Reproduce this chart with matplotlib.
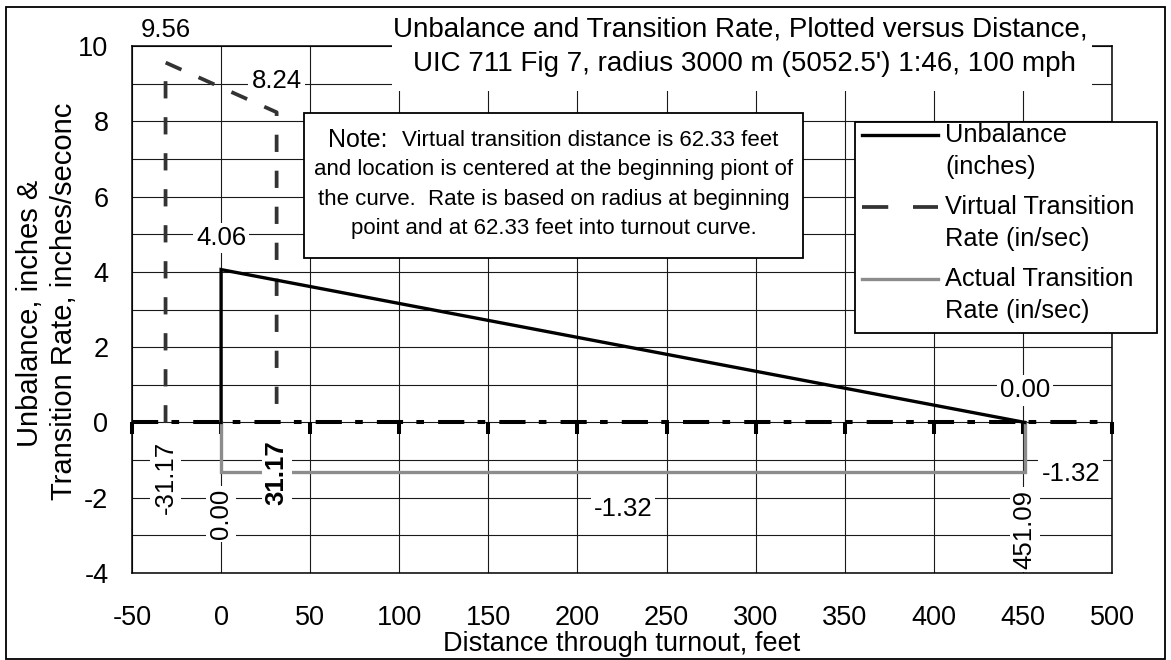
import matplotlib
matplotlib.use("Agg")
import matplotlib.pyplot as plt
from matplotlib.patches import Rectangle
from matplotlib.lines import Line2D
import numpy as np

plt.rcParams['font.family'] = ['Liberation Sans', 'DejaVu Sans']

# ---------------- data ----------------
unbalance_x = [0.0, 0.0, 451.09]
unbalance_y = [0.0, 4.06, 0.0]

virtual_x = [-31.17, -31.17, 31.17, 31.17]
virtual_y = [0.0, 9.56, 8.24, 0.0]

actual_x = [0.0, 0.0, 451.09, 451.09]
actual_y = [0.0, -1.32, -1.32, 0.0]

x_ticks = [-50, 0, 50, 100, 150, 200, 250, 300, 350, 400, 450, 500]
y_ticks = [-4, -2, 0, 2, 4, 6, 8, 10]
y_minor = [-3, -1, 1, 3, 5, 7, 9]

title_lines = ["Unbalance and Transition Rate, Plotted versus Distance,",
               "UIC 711 Fig 7, radius 3000 m (5052.5') 1:46, 100 mph"]
ylabel_lines = ["Unbalance, inches &", "Transition Rate, inches/seconc"]
xlabel = "Distance through turnout, feet"
legend_labels = ["Unbalance\n(inches)", "Virtual Transition\nRate (in/sec)",
                 "Actual Transition\nRate (in/sec)"]
note_head = "Note:"
note_lines = ["Virtual transition distance is 62.33 feet",
              "and location is centered at the beginning piont of",
              "the curve.  Rate is based on radius at beginning",
              "point and at 62.33 feet into turnout curve."]

# ---------------- figure ----------------
W, H = 1171, 660
fig = plt.figure(figsize=(W / 100, H / 100), dpi=100)
fig.patch.set_facecolor('white')

def fx(px):
    return px / W

def fy(py):
    return 1 - py / H

TICK_FS = 19.5
LAB_FS = 18.5

ax_l, ax_r, ax_t, ax_b = 132, 1112, 46, 573
ax = fig.add_axes([fx(ax_l), fy(ax_b), fx(ax_r) - fx(ax_l), fy(ax_t) - fy(ax_b)])
ax.set_xlim(-50, 500)
ax.set_ylim(-4, 10)
ax.set_xticks(x_ticks)
ax.set_yticks(y_ticks)
ax.set_yticks(y_minor, minor=True)
ax.set_xticklabels([str(v) for v in x_ticks])
ax.set_yticklabels([str(v) for v in y_ticks])
ax.tick_params(axis='both', which='both', length=0, labelsize=TICK_FS, colors='black')
ax.tick_params(axis='x', pad=23)
ax.tick_params(axis='y', pad=17)
ax.grid(True, which='both', color='#1a1a1a', linewidth=0.8)
ax.set_axisbelow(True)
for s in ax.spines.values():
    s.set_color('black')
    s.set_linewidth(1.1)

# zero axis line (dash-dot) with downward tick marks
ax.axhline(0, color='black', linewidth=2.9, dashes=(6.5, 3.3, 1.9, 3.5),
           dash_capstyle='butt', zorder=3)
ax.plot(x_ticks, np.zeros(len(x_ticks)), linestyle='none', marker=3,
        markersize=8.5, markeredgewidth=2.9, color='black', zorder=3, clip_on=False)

# series
ax.plot(actual_x, actual_y, color='#8c8c8c', linewidth=2.4, zorder=4,
        solid_joinstyle='miter')
ax.plot(unbalance_x, unbalance_y, color='black', linewidth=2.4, zorder=5,
        solid_joinstyle='miter')
ax.plot(virtual_x, virtual_y, color='#333333', linewidth=2.7, dashes=(4.6, 5.0),
        zorder=4, dash_capstyle='butt', solid_joinstyle='miter')

# data labels
bb = dict(boxstyle='square,pad=0.12', facecolor='white', edgecolor='none')
def lab(x, y, text, dx, dy, rot=0, weight='normal'):
    ax.annotate(text, (x, y), xytext=(dx, dy), textcoords='offset pixels',
                ha='center', va='center', fontsize=LAB_FS, rotation=rot,
                fontweight=weight, bbox=bb, zorder=6, annotation_clip=False)

lab(virtual_x[1], virtual_y[1], f"{virtual_y[1]:.2f}", 0, 33)
lab(virtual_x[2], virtual_y[2], f"{virtual_y[2]:.2f}", 0, 31)
lab(unbalance_x[1], unbalance_y[1], f"{unbalance_y[1]:.2f}", 0, 32)
lab(unbalance_x[2], unbalance_y[2], f"{unbalance_y[2]:.2f}", 0, 32)
lab(actual_x[2], actual_y[2], f"{actual_y[2]:.2f}", 46, -2)
lab((actual_x[1] + actual_x[2]) / 2, actual_y[1], f"{actual_y[1]:.2f}", 0, -37)
lab(virtual_x[0], virtual_y[0], f"{virtual_x[0]:.2f}", 0, -55, rot=90)
lab(virtual_x[3], virtual_y[3], f"{virtual_x[3]:.2f}", 0, -50, rot=90, weight='bold')
lab(actual_x[1], actual_y[1], f"{actual_x[1]:.2f}", 0, -42, rot=90)
lab(actual_x[2], actual_y[2], f"{actual_x[2]:.2f}", 0, -57, rot=90)

# title area (white box over plot)
fig.add_artist(Rectangle((fx(392), fy(91)), fx(1092) - fx(392), fy(10) - fy(91),
                         transform=fig.transFigure, facecolor='white',
                         edgecolor='none', zorder=5))
fig.text(fx(740), fy(29), title_lines[0], ha='center', va='center',
         fontsize=20, zorder=6)
fig.text(fx(744), fy(64), title_lines[1], ha='center', va='center',
         fontsize=20, zorder=6)

# axis labels
fig.text(fx(30), fy(313), ylabel_lines[0], rotation=90, ha='center', va='center',
         fontsize=21)
fig.text(fx(64), fy(301), ylabel_lines[1], rotation=90, ha='center', va='center',
         fontsize=21)
fig.text(fx(622), fy(644), xlabel, ha='center', va='center', fontsize=TICK_FS)

# note box
fig.add_artist(Rectangle((fx(304), fy(258)), fx(803) - fx(304), fy(113) - fy(258),
                         transform=fig.transFigure, facecolor='white',
                         edgecolor='black', linewidth=1.3, zorder=5))
renderer = fig.canvas.get_renderer()
head_t = fig.text(0, fy(140), note_head + "  ", ha='left', va='center',
                  fontsize=18, zorder=6)
body_t = fig.text(0, fy(140), note_lines[0], ha='left', va='center',
                  fontsize=16, zorder=6)
w_head = head_t.get_window_extent(renderer).width
w_body = body_t.get_window_extent(renderer).width
x0 = 553 - (w_head + w_body) / 2
head_t.set_x(fx(x0))
body_t.set_x(fx(x0 + w_head))
for i, line in enumerate(note_lines[1:]):
    fig.text(fx(554), fy(170 + 29.3 * i), line, ha='center', va='center',
             fontsize=16, zorder=6)

# legend box
fig.add_artist(Rectangle((fx(855), fy(333)), fx(1157) - fx(855), fy(122) - fy(333),
                         transform=fig.transFigure, facecolor='white',
                         edgecolor='black', linewidth=1.3, zorder=5))
leg_styles = [dict(color='black', linewidth=2.4),
              dict(color='#333333', linewidth=2.7, dashes=(7.0, 6.6),
                   dash_capstyle='butt'),
              dict(color='#8c8c8c', linewidth=2.4)]
leg_y = [135, 207, 279]
for lbl, st, yy in zip(legend_labels, leg_styles, leg_y):
    fig.add_artist(Line2D([fx(862), fx(938)], [fy(yy), fy(yy)],
                          transform=fig.transFigure, zorder=6, **st))
    for k, part in enumerate(lbl.split("\n")):
        fig.text(fx(945), fy(yy + 32 * k), part, ha='left', va='center',
                 fontsize=18.3, zorder=6)

# outer border
fig.add_artist(Rectangle((fx(6), fy(659)), fx(1165) - fx(6), fy(7) - fy(659),
                         transform=fig.transFigure, facecolor='none',
                         edgecolor='black', linewidth=1.3, zorder=7))

fig.savefig('out.png', dpi=100)
